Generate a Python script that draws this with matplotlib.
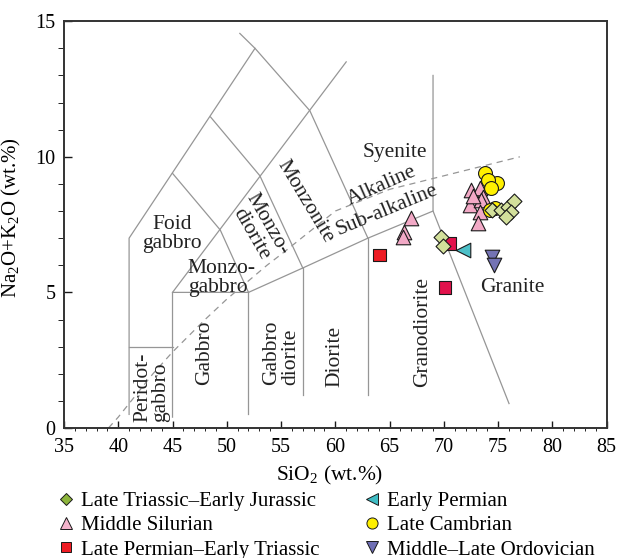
import matplotlib.pyplot as plt
from matplotlib.lines import Line2D

plt.rcParams['font.family'] = ['Liberation Serif', 'DejaVu Serif']
plt.rcParams['mathtext.fontset'] = 'custom'
plt.rcParams['mathtext.rm'] = 'Liberation Serif'
plt.rcParams['mathtext.it'] = 'Liberation Serif:italic'

# sample groups: SiO2 and Na2O+K2O (wt.%)
ltej_si = [69.7, 69.9, 74.45, 75.3, 75.9, 76.5, 76.2, 75.75]
ltej_alk = [7.05, 6.7, 8.02, 8.02, 8.16, 8.36, 7.97, 7.77]

msil_si = [72.5, 73.3, 72.4, 73.6, 73.45, 73.3, 73.15, 72.65, 67.0, 66.35, 66.25]
msil_alk = [8.77, 8.84, 8.22, 8.53, 8.40, 7.97, 7.55, 8.55, 7.73, 7.24, 7.05]

lpet_si = [64.1, 70.55, 70.1]
lpet_alk = [6.38, 6.8, 5.17]
lpet_col = ['#ee1c24', '#e2124c', '#e2124c']

eperm_si = [71.8]
eperm_alk = [6.56]

lcam_si = [73.8, 74.85, 74.1, 74.35, 74.7, 74.25]
lcam_alk = [9.39, 9.02, 9.14, 8.84, 8.10, 8.04]

mlo_si = [74.4, 74.65]
mlo_alk = [6.3, 6.0]

# Middlemost (1994) plutonic field boundaries
fields = [
    [(41, 0.5), (41, 7), (52.6, 14)],
    [(51.2, 14.55), (52.6, 14), (57.65, 11.7), (63, 7)],
    [(48.5, 11.47), (53.05, 9.3), (57, 5.9)],
    [(45, 9.39), (49.4, 7.3), (52, 5)],
    [(45, 5), (61, 13.5)],
    [(41, 3), (45, 3)],
    [(45, 0.4), (45, 5), (52, 5), (57, 5.9), (63, 7), (69, 8)],
    [(52, 0.5), (52, 5)],
    [(57, 1.2), (57, 5.9)],
    [(63, 1.2), (63, 7)],
    [(69, 13), (69, 8), (76, 0.9)],
]

# Irvine & Baragar alkaline / sub-alkaline divide
ib_si = [39.1, 40, 43.2, 45, 48, 50, 53.7, 55, 60, 65, 77]
ib_alk = [0, 0.4, 2.0, 2.8, 4.0, 4.75, 6.0, 6.4, 8.0, 8.8, 10.0]

fig = plt.figure(figsize=(6.21, 5.58), dpi=100)
ax = fig.add_axes([0.103, 0.233, 0.874, 0.729])

for seg in fields:
    xs, ys = zip(*seg)
    ax.plot(xs, ys, color='#969696', lw=0.9, zorder=1)
ax.plot(ib_si, ib_alk, color='#969696', lw=0.9, ls=(0, (5, 4)), zorder=1)

lab = dict(fontsize=15.5, color='#222222', zorder=2)
ax.text(65.5, 10.17, 'Syenite', ha='center', va='center', **lab)
ax.text(64.3, 8.92, 'Alkaline', ha='center', va='center', rotation=24, **lab)
ax.text(64.8, 8.04, 'Sub-alkaline', ha='center', va='center', rotation=22.5, **lab)
ax.text(57.2, 8.34, 'Monzonite', ha='center', va='center', rotation=-59, **lab)
ax.text(53.0, 7.33, 'Monzo-\ndiorite', ha='center', va='center', rotation=-60,
        linespacing=0.95, **lab)
ax.text(44.95, 7.15, 'Foid\ngabbro', ha='center', va='center', linespacing=1.0, **lab)
ax.text(49.55, 5.53, 'Monzo-\ngabbro', ha='center', va='center', multialignment='left',
        linespacing=0.95, **lab)
ax.text(43.1, 0.22, 'Peridot-\ngabbro', ha='center', va='bottom', rotation=90,
        multialignment='left', linespacing=0.95, **lab)
ax.text(47.98, 1.57, 'Gabbro', ha='center', va='bottom', rotation=90, **lab)
ax.text(55.03, 1.57, 'Gabbro\ndiorite', ha='center', va='bottom', rotation=90,
        multialignment='left', linespacing=1.0, **lab)
ax.text(59.95, 1.52, 'Diorite', ha='center', va='bottom', rotation=90, **lab)
ax.text(68.06, 1.52, 'Granodiorite', ha='center', va='bottom', rotation=90, **lab)
ax.text(76.34, 5.18, 'Granite', ha='center', va='center', **lab)

edge = dict(edgecolors='#1a1a1a', linewidths=0.8)
ax.scatter(msil_si, msil_alk, marker='^', s=10.5**2, c='#f2a9c6', zorder=3, **edge)
ax.scatter(lcam_si, lcam_alk, marker='o', s=10**2, c='#fff000', zorder=4, **edge)
ax.scatter(lpet_si, lpet_alk, marker='s', s=9.3**2, c=lpet_col, zorder=4, **edge)
ax.scatter(eperm_si, eperm_alk, marker='<', s=10.5**2, c='#4cc0c8', zorder=4, **edge)
ax.scatter(ltej_si, ltej_alk, marker='D', s=7.6**2, c='#d3e09b', zorder=5, **edge)
ax.scatter(mlo_si, mlo_alk, marker='v', s=10.5**2, c='#7473b4', zorder=4, **edge)

ax.set_xlim(35, 85)
ax.set_ylim(0, 15)
ax.set_xticks(range(35, 86, 5))
ax.set_xticks(range(35, 86), minor=True)
ax.set_yticks([0, 5, 10, 15])
ax.set_yticks(range(0, 16), minor=True)
ax.tick_params(direction='in', labelsize=14.5, width=1.0, color='#1a1a1a')
ax.tick_params(axis='x', which='major', length=5, pad=7)
ax.tick_params(axis='x', which='minor', length=2.2)
ax.tick_params(axis='y', which='major', length=5.5, pad=6)
ax.tick_params(axis='y', which='minor', length=4.5)
for sp in ax.spines.values():
    sp.set_linewidth(1.4)
    sp.set_color('#333333')

ax.set_xlabel('SiO$_2$ (wt.%)', fontsize=15.5)
ax.set_ylabel('Na$_2$O+K$_2$O (wt.%)', fontsize=15)
ax.xaxis.set_label_coords(0.49, -0.088)
ax.yaxis.set_label_coords(-0.076, 0.518)

def handle(marker, color, ms):
    return Line2D([], [], ls='none', marker=marker, ms=ms, mfc=color,
                  mec='#1a1a1a', mew=0.7)

left = [handle('D', '#8db53c', 6), handle('^', '#f3b3cb', 8), handle('s', '#ee1c24', 7.5)]
left_lab = ['Late Triassic\u2013Early Jurassic', 'Middle Silurian',
            'Late Permian\u2013Early Triassic']
right = [handle('<', '#3fbcc4', 8), handle('o', '#fff000', 8), handle('v', '#6f6fb5', 8)]
right_lab = ['Early Permian', 'Late Cambrian', 'Middle\u2013Late Ordovician']

leg_kw = dict(loc='upper left', frameon=False, fontsize=15, borderpad=0,
              handlelength=0.7, handletextpad=0.35, labelspacing=0.22,
              borderaxespad=0)
fig.legend(left, left_lab, bbox_to_anchor=(0.095, 0.119), **leg_kw)
fig.legend(right, right_lab, bbox_to_anchor=(0.588, 0.119), **leg_kw)

fig.savefig('out.png', dpi=100)
